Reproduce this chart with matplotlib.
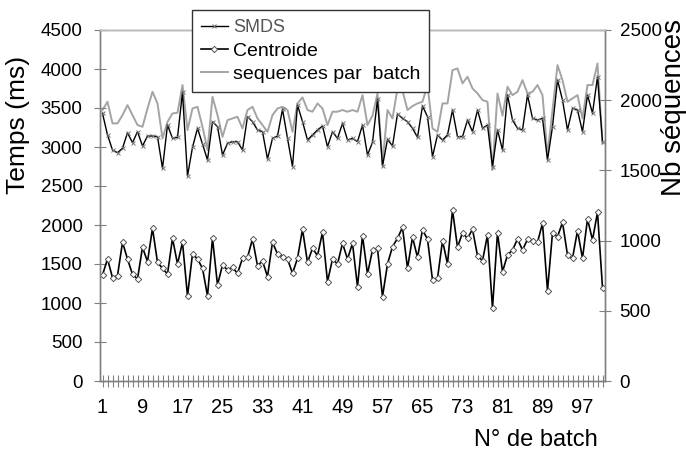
import matplotlib
matplotlib.use("Agg")
import matplotlib.pyplot as plt
import numpy as np

batch = np.arange(1, 102)

smds = [3432, 3154, 2961, 2927, 2983, 3183, 3055, 3196, 3013, 3141,
        3141, 3132, 2727, 3282, 3111, 3124, 3700, 2628, 2996, 3240,
        3038, 2833, 3325, 3261, 2897, 3047, 3068, 3068, 2961, 3389,
        3325, 3218, 3196, 2846, 3111, 3141, 3483, 3111, 2748, 3538,
        3325, 3090, 3154, 3218, 3269, 3004, 3196, 3111, 3303, 3090,
        3111, 3068, 3282, 2897, 3060, 3610, 2756, 3098, 3013, 3423,
        3367, 3325, 3240, 3124, 3526, 3389, 2876, 3154, 3090, 3154,
        3474, 3132, 3132, 3346, 3196, 3474, 3240, 3282, 2748, 3220,
        2961, 3667, 3346, 3240, 3218, 3667, 3367, 3346, 3367, 2833,
        3261, 3859, 3602, 3218, 3496, 3474, 3196, 3667, 3432, 3901,
        3068]

centroide = [1359, 1564, 1325, 1350, 1778, 1564, 1368, 1308, 1714, 1530,
             1957, 1521, 1444, 1372, 1829, 1500, 1778, 1090, 1628, 1564,
             1444, 1090, 1829, 1231, 1487, 1423, 1457, 1380, 1573, 1585,
             1820, 1479, 1538, 1338, 1778, 1628, 1594, 1564, 1380, 1573,
             1944, 1521, 1701, 1607, 1906, 1273, 1564, 1500, 1765, 1564,
             1765, 1209, 1863, 1372, 1679, 1701, 1081, 1500, 1722, 1829,
             1970, 1444, 1842, 1585, 1936, 1820, 1295, 1316, 1799, 1500,
             2192, 1714, 1901, 1829, 1944, 1607, 1542, 1872, 932, 1901,
             1401, 1615, 1679, 1820, 1679, 1816, 1795, 1778, 2022, 1158,
             1901, 1850, 2034, 1615, 1573, 1927, 1573, 2077, 1808, 2163,
             1196]

sequences = [1930, 1989, 1835, 1835, 1894, 1965, 1894, 1823, 1811, 1941,
             2060, 1977, 1728, 1846, 1906, 1910, 2108, 1787, 1941, 1953,
             1811, 1645, 2024, 1894, 1739, 1858, 1870, 1882, 1799, 1930,
             1953, 1870, 1823, 1775, 1894, 1941, 1953, 1930, 1775, 1977,
             2020, 1930, 1918, 1977, 1941, 1823, 1918, 1918, 1930, 1918,
             1930, 1918, 2036, 1823, 1890, 2048, 1550, 1930, 1870, 2084,
             2067, 1930, 1958, 1977, 1989, 2108, 1799, 1775, 1977, 1977,
             2214, 2226, 2120, 2167, 2084, 2048, 2001, 1989, 1502, 2048,
             1890, 2096, 2036, 2060, 2143, 2048, 2060, 2108, 2036, 1609,
             1930, 2250, 2143, 1989, 2013, 2036, 1870, 2108, 2108, 2262,
             1692]

xtick_labels = [1, 9, 17, 25, 33, 41, 49, 57, 65, 73, 81, 89, 97]

plt.rcParams['font.family'] = ['Liberation Sans', 'DejaVu Sans']
axis_col = '#808080'

fig = plt.figure(figsize=(6.86, 4.55), dpi=100)
ax = fig.add_axes([100/686, 1 - 381/455, 505/686, 351/455])
ax2 = ax.twinx()

l1, = ax.plot(batch, smds, color='black', lw=1.0, marker='x', ms=3.5,
              mew=0.7, mec='#777777')
l2, = ax.plot(batch, centroide, color='black', lw=1.2, marker='D', ms=3.2,
              mfc='white', mec='#555555', mew=0.7)
l3, = ax2.plot(batch, sequences, color='#a4a4a4', lw=1.4)
ax.set_zorder(ax2.get_zorder() + 1)
ax.patch.set_visible(False)

ax.set_xlim(0.5, 101.5)
ax.set_ylim(0, 4500)
ax2.set_ylim(0, 2500)
ax.set_yticks(np.arange(0, 4501, 500))
ax2.set_yticks(np.arange(0, 2501, 500))
ax.set_xticks(xtick_labels)
ax.set_xticks(batch, minor=True)

for a in (ax, ax2):
    for s in a.spines.values():
        s.set_color(axis_col)
        s.set_linewidth(1.0)
ax.spines['top'].set_color('#bbbbbb')

ax.tick_params(axis='y', direction='inout', length=9, color=axis_col,
               labelsize=13.5, pad=8)
ax2.tick_params(axis='y', direction='inout', length=9, color=axis_col,
                labelsize=13.5, pad=6)
ax.tick_params(axis='x', which='both', direction='inout', length=8,
               color=axis_col, width=0.8)
ax.tick_params(axis='x', which='major', labelsize=14.5, pad=8)

fig.text(18/686, 1 - 125/455, 'Temps (ms)', fontsize=19, rotation=90,
         ha='center', va='center')
fig.text(674/686, 1 - 108/455, 'Nb séquences', fontsize=20, rotation=90,
         ha='center', va='center')
fig.text(536/686, 1 - 440/455, 'N° de batch', fontsize=17, ha='center',
         va='center')

leg = fig.legend([l1, l2, l3], ['SMDS', 'Centroide', 'sequences par  batch'],
                 loc='upper left', bbox_to_anchor=(192/686, 1 - 10/455),
                 frameon=True, fancybox=False, edgecolor='#333333',
                 framealpha=1, fontsize=14, handlelength=1.4,
                 handletextpad=0.25, labelspacing=0.3, borderpad=0.45,
                 borderaxespad=0)
leg.get_frame().set_linewidth(1.0)
leg.get_texts()[0].set_fontsize(13)
leg.get_texts()[0].set_color('#555555')

fig.savefig('out.png', dpi=100)
